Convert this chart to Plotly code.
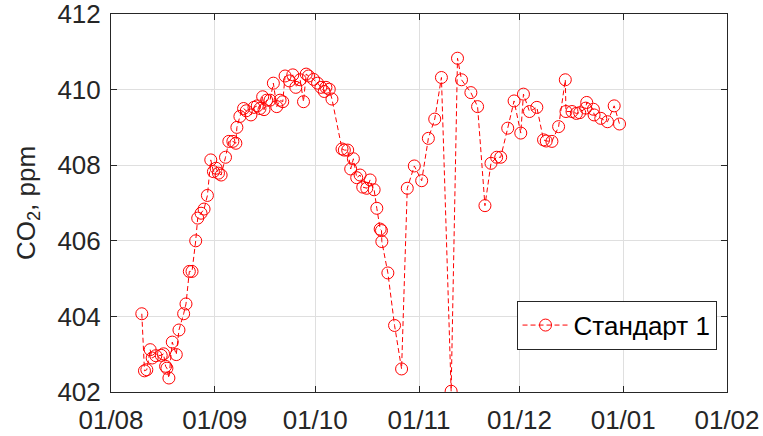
import pandas as pd
import plotly.graph_objects as go

start_date = "2019-08-01"
# days since 1 Aug
day_offsets = [
    9.2, 10.0, 10.7, 11.7, 12.3, 13.4, 15.0, 15.7, 16.3, 16.7, 17.3, 18.3, 19.5, 20.3,
    21.7, 22.4, 23.4, 24.2, 25.3, 25.9, 26.9, 27.8, 28.8, 29.8, 30.6, 31.4, 32.1, 32.9,
    34.2, 35.2, 36.4, 37.3, 37.6, 38.5, 39.6, 40.4, 41.8, 42.7, 43.7, 44.5, 45.3, 45.7,
    46.5, 47.5, 48.5, 49.5, 50.5, 51.3, 52.0, 53.3, 54.3, 55.2, 56.5, 57.5, 58.3, 59.0,
    60.5, 61.7, 62.7, 63.7, 64.2, 65.2, 66.0, 69.0, 69.7, 70.7, 71.6, 72.4, 73.4, 74.4,
    75.2, 76.4, 77.4, 78.6, 79.4, 80.4, 80.8, 80.9, 82.7, 84.7, 86.8, 88.5, 90.6, 92.8,
    94.8, 96.7, 98.7, 101.6, 103.5, 104.7, 107.5, 109.5, 111.7, 113.5, 115.2, 116.4,
    118.5, 120.4, 122.4, 123.2, 125.0, 127.2, 129.2, 130.0, 131.7, 133.7, 135.7, 135.9,
    137.7, 139.0, 140.0, 141.8, 142.1, 144.1, 144.3, 146.3, 148.3, 150.3, 151.9,
]
co2_ppm = [
    404.07, 402.56, 402.59, 403.12, 402.90, 402.96, 402.97, 403.01, 402.68, 402.63, 402.37, 403.32, 402.99, 403.64,
    404.07, 404.33, 405.19, 405.19, 406.00, 406.60, 406.73, 406.84, 407.20, 408.14, 407.83, 407.92, 407.79, 407.74,
    408.21, 408.63, 408.63, 408.58, 409.00, 409.29, 409.50, 409.44, 409.33, 409.53, 409.57, 409.50, 409.81, 409.47,
    409.72, 409.72, 410.17, 409.55, 409.72, 409.68, 410.36, 410.23, 410.39, 410.06, 410.26, 409.68, 410.41, 410.36,
    410.27, 410.17, 410.06, 409.95, 410.06, 410.01, 409.75, 408.43, 408.40, 408.40, 407.90, 408.17, 407.67, 407.74,
    407.42, 407.39, 407.61, 407.35, 406.86, 406.31, 406.27, 405.98, 405.15, 403.76, 402.61, 407.39, 407.98, 407.59,
    408.71, 409.22, 410.32, 402.02, 410.83, 410.26, 409.92, 409.55, 406.93, 408.05, 408.21, 408.21,
    408.98, 409.70, 408.85, 409.88, 409.42, 409.53, 408.67, 408.64, 408.63, 409.02, 410.26, 409.42,
    409.42, 409.37, 409.39, 409.51, 409.66, 409.48, 409.33, 409.24, 409.15, 409.57, 409.09,
]
series_name = "Стандарт 1"
y_title = "CO<sub>2</sub>, ppm"
x_range = ["2019-08-01", "2020-02-01"]
y_range = [402, 412]

dates = pd.Timestamp(start_date) + pd.to_timedelta(day_offsets, unit="D")

FONT = "Liberation Sans, Arial, sans-serif"
AX = "#262626"
GRID = "#dfdfdf"

fig = go.Figure()
fig.add_trace(go.Scatter(
    x=dates, y=co2_ppm, name=series_name, mode="lines+markers",
    line=dict(color="red", width=1, dash="5px,3px"),
    marker=dict(symbol="circle-open", size=12, color="red", line=dict(width=1, color="red")),
))

fig.update_layout(
    width=763, height=436,
    margin=dict(l=111, r=36, t=14, b=44),
    paper_bgcolor="white", plot_bgcolor="white",
    font=dict(family=FONT, size=26, color=AX),
    showlegend=True,
    legend=dict(x=0.983, y=0.112, xanchor="right", yanchor="bottom",
                bgcolor="white", bordercolor=AX, borderwidth=1,
                font=dict(family=FONT, size=26, color="black"),
                itemwidth=46),
)
fig.update_xaxes(
    type="date", range=x_range, dtick="M1", tick0="2019-08-01", tickformat="%d/%m",
    showgrid=True, gridcolor=GRID, gridwidth=1, automargin=False,
    showline=True, linecolor=AX, linewidth=1, mirror="ticks",
    ticks="inside", ticklen=6, tickcolor=AX, tickwidth=1,
    ticklabelstandoff=5, ticklabeloverflow="allow",
    tickfont=dict(family=FONT, size=26, color=AX), zeroline=False,
)
fig.update_yaxes(
    range=y_range, dtick=2, tick0=402,
    showgrid=True, gridcolor=GRID, gridwidth=1, automargin=False,
    showline=True, linecolor=AX, linewidth=1, mirror="ticks",
    ticks="inside", ticklen=6, tickcolor=AX, tickwidth=1,
    ticklabeloverflow="allow", ticklabelstandoff=4,
    tickfont=dict(family=FONT, size=26, color=AX), zeroline=False,
    title=dict(text=y_title, font=dict(family=FONT, size=26, color=AX), standoff=14),
)

fig.write_html("out.html")
